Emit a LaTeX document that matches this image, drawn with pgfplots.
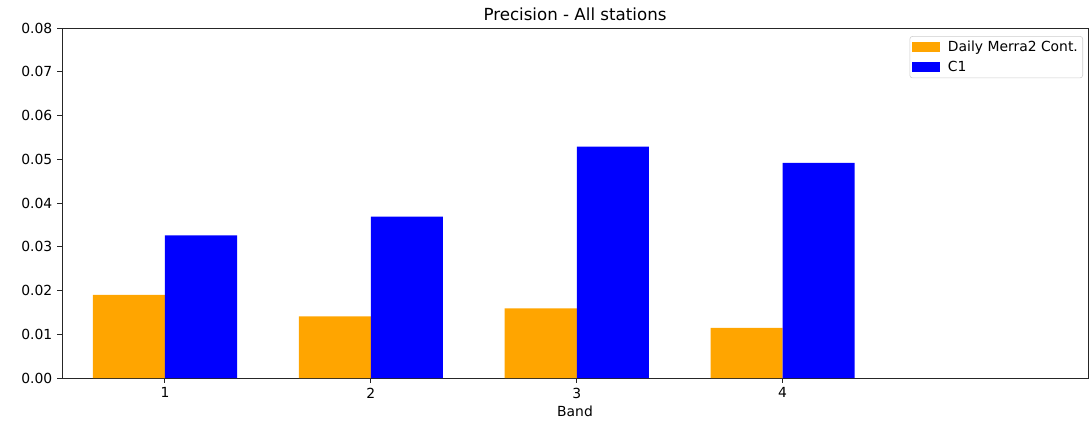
\documentclass[border=0pt]{standalone}
\usepackage{fontspec}
\setmainfont{DejaVu Sans}
\usepackage{pgfplots}
\pgfplotsset{compat=1.18}
\definecolor{mplorange}{HTML}{FFA500}
\definecolor{mplblue}{HTML}{0000FF}
\begin{document}
\begin{tikzpicture}
\begin{axis}[
  at={(0,0)}, anchor=south west,
  scale only axis, width=738.7bp, height=252bp,
  xmin=0.5, xmax=5.483, ymin=0, ymax=0.08,
  xtick={1,2,3,4}, ytick={0,0.01,0.02,0.03,0.04,0.05,0.06,0.07,0.08},
  scaled y ticks=false,
  yticklabel style={/pgf/number format/.cd, fixed, fixed zerofill, precision=2},
  /pgf/number format/assume math mode=true,
  tick align=outside, major tick length=3.5bp,
  xtick pos=bottom, ytick pos=left,
  tick style={black!85, line width=0.65bp},
  axis line style={black!85, line width=0.65bp},
  ticklabel style={font=\fontsize{10bp}{12bp}\selectfont},
  title={Precision - All stations},
  title style={font=\fontsize{12bp}{14bp}\selectfont, at={(axis description cs:0.5,1)}, anchor=base, yshift=-0.5bp},
  xlabel={Band},
  xlabel style={font=\fontsize{10bp}{12bp}\selectfont, at={(axis description cs:0.5,0)}, anchor=base, yshift=-27.4bp},
  legend style={at={(1,1)}, anchor=north east, xshift=-3.6bp, yshift=-5.8bp, draw=black!20, rounded corners=2bp, font=\fontsize{10bp}{12bp}\selectfont, inner sep=1.5bp, column sep=4bp, row sep=1bp},
  legend cell align=left,
  legend image code/.code={\fill[#1, sharp corners] (0bp,-3.6bp) rectangle (20bp,3.6bp);},
]
\addplot[ybar, bar width=0.35, bar shift=-0.175, fill=mplorange, draw=none] coordinates {(1,0.0190) (2,0.0141) (3,0.0159) (4,0.01145)};
\addlegendentry{Daily Merra2 Cont.}
\addplot[ybar, bar width=0.35, bar shift=0.175, fill=mplblue, draw=none] coordinates {(1,0.0326) (2,0.0369) (3,0.0529) (4,0.0492)};
\addlegendentry{C1}
\end{axis}
\pgfresetboundingbox
\path ([shift={(-44.64bp,-30.96bp)}]current axis.south west) rectangle ([shift={(1.44bp,20.16bp)}]current axis.north east);
\end{tikzpicture}
\end{document}
